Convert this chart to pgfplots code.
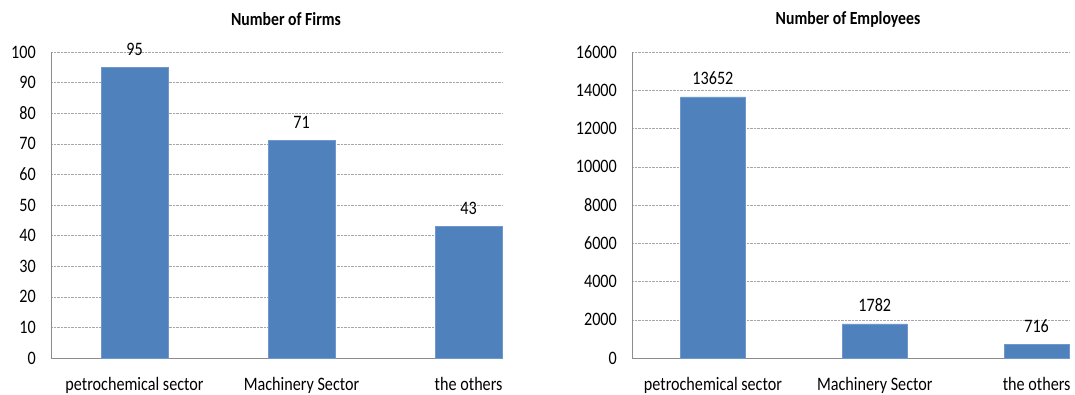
\documentclass[border=0pt]{standalone}
\usepackage{fontspec}
\setmainfont{Carlito}[FakeStretch=0.85]
\usepackage{pgfplots}
\pgfplotsset{compat=1.18}

\definecolor{barblue}{HTML}{4F81BD}
\definecolor{baredge}{HTML}{7098CC}
\definecolor{axisgray}{HTML}{8C8C8C}
\definecolor{gridgray}{HTML}{A6A6A6}

\newcommand{\lblfont}{\fontsize{19}{19}\selectfont}
\newcommand{\ttlfont}{\fontsize{18.5}{18.5}\selectfont\bfseries}

\pgfplotsset{
  sectorbars/.style={
    scale only axis, height=306pt,
    ybar, bar width=0.4, bar shift=0pt,
    xmin=-0.5, xmax=2.2, ymin=0,
    xtick={0,1,2},
    xticklabels={petrochemical sector, Machinery Sector, the others},
    axis lines*=left,
    axis line style={axisgray, line width=0.8pt, -},
    ymajorgrids,
    grid style={gridgray, densely dotted, line width=0.5pt},
    major tick length=0pt,
    scaled y ticks=false,
    /pgf/number format/.cd, assume math mode=true, 1000 sep={}, /pgfplots/.cd,
    tick label style={font=\lblfont, text=black},
    yticklabel style={inner sep=0pt, xshift=-15pt},
    xticklabel style={anchor=base, inner sep=0pt, yshift=-32pt},
    clip=false,
    nodes near coords={\pgfmathprintnumber[fixed,precision=0,1000 sep={},assume math mode=true]{\pgfplotspointmeta}},
    nodes near coords style={font=\lblfont, text=black, anchor=base, inner sep=0pt, yshift=12pt},
  },
}

\begin{document}
\begin{tikzpicture}
\useasboundingbox (0,0) rectangle (1075pt,394pt);

% number of firms per sector
\begin{axis}[sectorbars, at={(51pt,36pt)}, anchor=south west,
    width=451pt, ymax=100, ytick distance=10]
  \addplot[fill=barblue, draw=baredge, line width=0.6pt]
    coordinates {(0,95) (1,71) (2,43)};
\end{axis}

% number of employees per sector
\begin{axis}[sectorbars, at={(632pt,36pt)}, anchor=south west,
    width=437pt, ymax=16000, ytick distance=2000]
  \addplot[fill=barblue, draw=baredge, line width=0.6pt]
    coordinates {(0,13652) (1,1782) (2,716)};
\end{axis}

\node[font=\ttlfont] at (286pt,375pt) {Number of Firms};
\node[font=\ttlfont] at (848pt,375pt) {Number of Employees};
\end{tikzpicture}
\end{document}
